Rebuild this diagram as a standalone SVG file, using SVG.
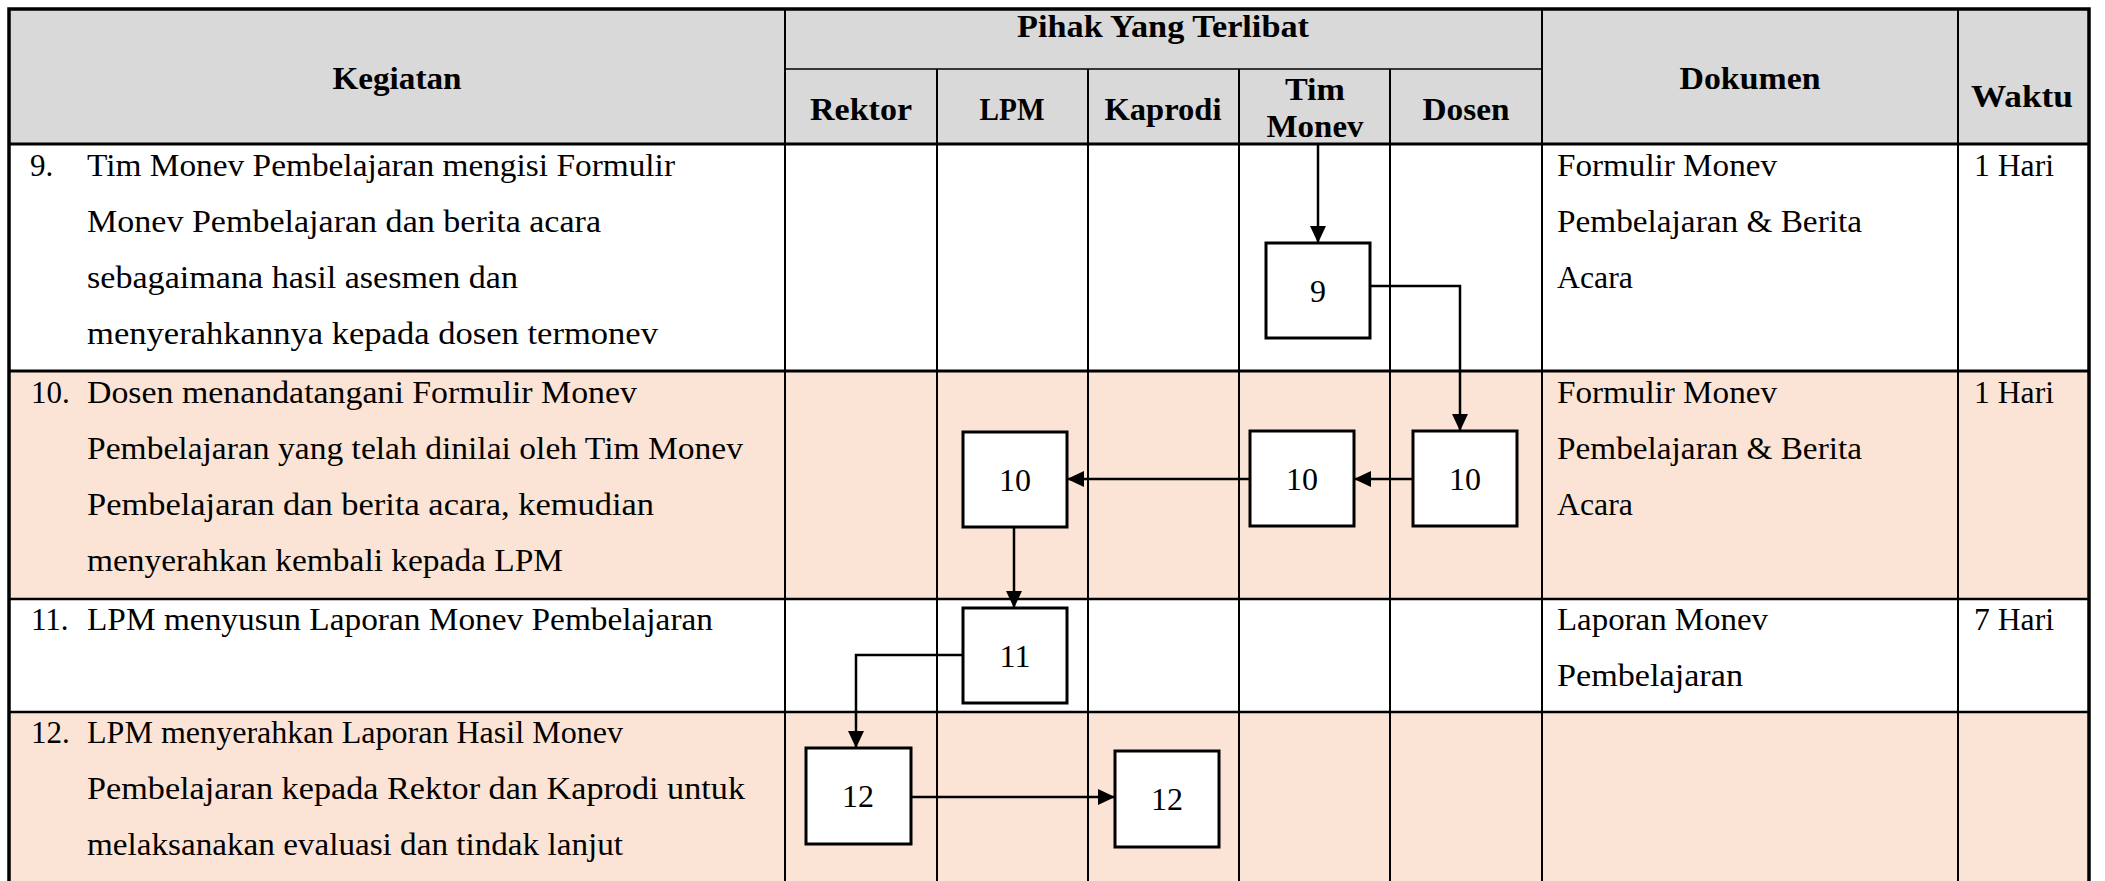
<svg xmlns="http://www.w3.org/2000/svg" width="2105" height="881" viewBox="0 0 2105 881">
<style>
.hd{font-family:"Liberation Serif","Times New Roman",serif;font-weight:bold;font-size:31px;fill:#000;text-anchor:middle}
.tx{font-family:"Liberation Serif","Times New Roman",serif;font-size:31px;fill:#000}
.num{font-family:"Liberation Serif","Times New Roman",serif;font-size:32px;fill:#000;text-anchor:middle}
.vl{stroke:#000;stroke-width:2;fill:none}
.hl{stroke:#000;stroke-width:2.5;fill:none}
.box{fill:#fff;stroke:#000;stroke-width:3}
.con{fill:none;stroke:#000;stroke-width:2.5}
</style>
<defs>
<marker id="ah" markerUnits="userSpaceOnUse" markerWidth="17" markerHeight="16" refX="17" refY="8" orient="auto">
<path d="M0,0 L17,8 L0,16 z" fill="#000"/>
</marker>
</defs>
<rect x="0" y="0" width="2105" height="881" fill="#fff"/>
<g id="table">
<rect x="9" y="9" width="2080" height="135" fill="#D9D9D9"/>
<rect x="9" y="144" width="2080" height="227" fill="#fff"/>
<rect x="9" y="371" width="2080" height="228" fill="#FBE4D5"/>
<rect x="9" y="599" width="2080" height="113" fill="#fff"/>
<rect x="9" y="712" width="2080" height="169" fill="#FBE4D5"/>
<line class="hl" x1="785" y1="69" x2="1542" y2="69" style="stroke-width:1.5"/>
<line class="hl" x1="9" y1="144" x2="2089" y2="144" style="stroke-width:3"/>
<line class="hl" x1="9" y1="371" x2="2089" y2="371" style="stroke-width:3"/>
<line class="hl" x1="9" y1="599" x2="2089" y2="599"/>
<line class="hl" x1="9" y1="712" x2="2089" y2="712"/>
<line class="vl" x1="785" y1="9" x2="785" y2="881"/>
<line class="vl" x1="937" y1="69" x2="937" y2="881"/>
<line class="vl" x1="1088" y1="69" x2="1088" y2="881"/>
<line class="vl" x1="1239" y1="69" x2="1239" y2="881"/>
<line class="vl" x1="1390" y1="69" x2="1390" y2="881"/>
<line class="vl" x1="1542" y1="9" x2="1542" y2="881"/>
<line class="vl" x1="1958" y1="9" x2="1958" y2="881"/>
<path d="M9,881 V9 H2089 V881" fill="none" stroke="#000" stroke-width="3.5"/>
</g>
<g id="header">
<text class="hd" x="397" y="89" textLength="129" lengthAdjust="spacingAndGlyphs">Kegiatan</text>
<text class="hd" x="1163" y="37" textLength="292" lengthAdjust="spacingAndGlyphs">Pihak Yang Terlibat</text>
<text class="hd" x="861" y="120" textLength="102" lengthAdjust="spacingAndGlyphs">Rektor</text>
<text class="hd" x="1012" y="120" textLength="65" lengthAdjust="spacingAndGlyphs">LPM</text>
<text class="hd" x="1163" y="120" textLength="117" lengthAdjust="spacingAndGlyphs">Kaprodi</text>
<text class="hd" x="1315" y="100" textLength="60" lengthAdjust="spacingAndGlyphs">Tim</text>
<text class="hd" x="1315" y="137" textLength="97" lengthAdjust="spacingAndGlyphs">Monev</text>
<text class="hd" x="1466" y="120" textLength="87" lengthAdjust="spacingAndGlyphs">Dosen</text>
<text class="hd" x="1750" y="89" textLength="141" lengthAdjust="spacingAndGlyphs">Dokumen</text>
<text class="hd" x="2022" y="107" textLength="102" lengthAdjust="spacingAndGlyphs">Waktu</text>
</g>
<g id="row9">
<text class="tx" x="30" y="176">9.</text>
<text class="tx" x="87" y="176" textLength="588" lengthAdjust="spacingAndGlyphs">Tim Monev Pembelajaran mengisi Formulir</text>
<text class="tx" x="87" y="232" textLength="514" lengthAdjust="spacingAndGlyphs">Monev Pembelajaran dan berita acara</text>
<text class="tx" x="87" y="288" textLength="431" lengthAdjust="spacingAndGlyphs">sebagaimana hasil asesmen dan</text>
<text class="tx" x="87" y="344" textLength="571" lengthAdjust="spacingAndGlyphs">menyerahkannya kepada dosen termonev</text>
<text class="tx" x="1557" y="176" textLength="220" lengthAdjust="spacingAndGlyphs">Formulir Monev</text>
<text class="tx" x="1557" y="232" textLength="305" lengthAdjust="spacingAndGlyphs">Pembelajaran &amp; Berita</text>
<text class="tx" x="1557" y="288" textLength="76" lengthAdjust="spacingAndGlyphs">Acara</text>
<text class="tx" x="1974" y="176" textLength="80" lengthAdjust="spacingAndGlyphs">1 Hari</text>
</g>
<g id="row10">
<text class="tx" x="31" y="403">10.</text>
<text class="tx" x="87" y="403" textLength="550" lengthAdjust="spacingAndGlyphs">Dosen menandatangani Formulir Monev</text>
<text class="tx" x="87" y="459" textLength="656" lengthAdjust="spacingAndGlyphs">Pembelajaran yang telah dinilai oleh Tim Monev</text>
<text class="tx" x="87" y="515" textLength="567" lengthAdjust="spacingAndGlyphs">Pembelajaran dan berita acara, kemudian</text>
<text class="tx" x="87" y="571" textLength="476" lengthAdjust="spacingAndGlyphs">menyerahkan kembali kepada LPM</text>
<text class="tx" x="1557" y="403" textLength="220" lengthAdjust="spacingAndGlyphs">Formulir Monev</text>
<text class="tx" x="1557" y="459" textLength="305" lengthAdjust="spacingAndGlyphs">Pembelajaran &amp; Berita</text>
<text class="tx" x="1557" y="515" textLength="76" lengthAdjust="spacingAndGlyphs">Acara</text>
<text class="tx" x="1974" y="403" textLength="80" lengthAdjust="spacingAndGlyphs">1 Hari</text>
</g>
<g id="row11">
<text class="tx" x="31" y="630">11.</text>
<text class="tx" x="87" y="630" textLength="626" lengthAdjust="spacingAndGlyphs">LPM menyusun Laporan Monev Pembelajaran</text>
<text class="tx" x="1557" y="630" textLength="211" lengthAdjust="spacingAndGlyphs">Laporan Monev</text>
<text class="tx" x="1557" y="686" textLength="186" lengthAdjust="spacingAndGlyphs">Pembelajaran</text>
<text class="tx" x="1974" y="630" textLength="80" lengthAdjust="spacingAndGlyphs">7 Hari</text>
</g>
<g id="row12">
<text class="tx" x="31" y="743">12.</text>
<text class="tx" x="87" y="743" textLength="536" lengthAdjust="spacingAndGlyphs">LPM menyerahkan Laporan Hasil Monev</text>
<text class="tx" x="87" y="799" textLength="658" lengthAdjust="spacingAndGlyphs">Pembelajaran kepada Rektor dan Kaprodi untuk</text>
<text class="tx" x="87" y="855" textLength="536" lengthAdjust="spacingAndGlyphs">melaksanakan evaluasi dan tindak lanjut</text>
</g>
<g id="connectors">
<path class="con" d="M1318,145 V243" marker-end="url(#ah)"/>
<path class="con" d="M1370,286 H1460 V431" marker-end="url(#ah)"/>
<path class="con" d="M1413,479 H1354" marker-end="url(#ah)"/>
<path class="con" d="M1250,479 H1067" marker-end="url(#ah)"/>
<path class="con" d="M1014,527 V608" marker-end="url(#ah)"/>
<path class="con" d="M963,655 H856 V748" marker-end="url(#ah)"/>
<path class="con" d="M911,797 H1115" marker-end="url(#ah)"/>
</g>
<g id="node-9"><rect class="box" x="1266" y="243" width="104" height="95"/><text class="num" x="1318" y="302">9</text></g>
<g id="node-10-dosen"><rect class="box" x="1413" y="431" width="104" height="95"/><text class="num" x="1465" y="490">10</text></g>
<g id="node-10-tim"><rect class="box" x="1250" y="431" width="104" height="95"/><text class="num" x="1302" y="490">10</text></g>
<g id="node-10-lpm"><rect class="box" x="963" y="432" width="104" height="95"/><text class="num" x="1015" y="491">10</text></g>
<g id="node-11"><rect class="box" x="963" y="608" width="104" height="95"/><text class="num" x="1015" y="667">11</text></g>
<g id="node-12-rektor"><rect class="box" x="806" y="748" width="105" height="96"/><text class="num" x="858" y="807">12</text></g>
<g id="node-12-kaprodi"><rect class="box" x="1115" y="751" width="104" height="96"/><text class="num" x="1167" y="810">12</text></g>
</svg>
